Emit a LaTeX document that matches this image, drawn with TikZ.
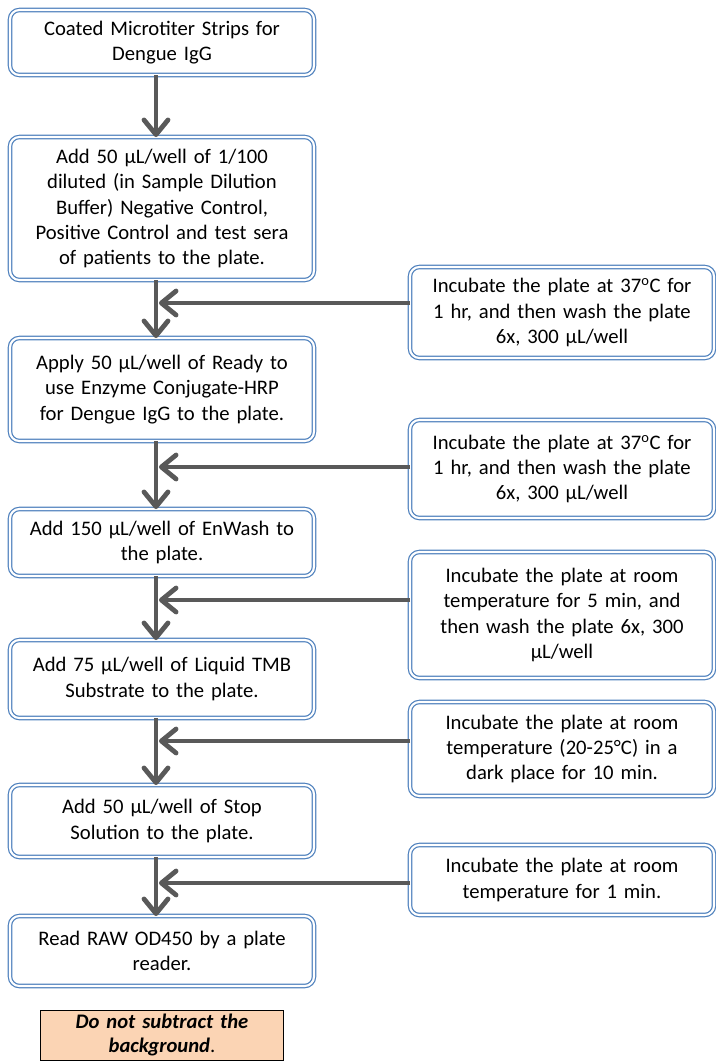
\documentclass[tikz,border=0pt]{standalone}
\usepackage{fontspec}
\setmainfont{Carlito}
\usetikzlibrary{positioning,arrows.meta}
\definecolor{boxblue}{HTML}{4F81BD}
\definecolor{arrowgray}{HTML}{595959}
\definecolor{notepeach}{HTML}{FBD4B4}

\begin{document}
\begin{tikzpicture}[x=0.75pt,y=-0.75pt,
	stepbox/.style={rectangle,rounded corners=7pt,draw=boxblue,line width=0.9pt,double=white,double distance=1.6pt,outer sep=0pt,text width=220pt,align=center,inner sep=4pt,font=\fontsize{15.5}{19}\selectfont},
	notebox/.style={rectangle,draw=black,line width=0.7pt,outer sep=0pt,fill=notepeach,text width=180pt,minimum height=37.5pt,align=center,inner sep=1pt,font=\fontsize{15.5}{18}\selectfont\bfseries\itshape},
	flowarrow/.style={draw=arrowgray,line width=3.6pt,-{Straight Barb[length=11pt,width=18pt,round]}}]
		\useasboundingbox (0,0) rectangle (715,1061);

		\node[stepbox,minimum height=48.75pt]							(step1)	at (162,42.5)	{Coated Microtiter Strips for\\Dengue IgG};
		\node[stepbox,minimum height=107.25pt,below=46.5pt of step1]	(step2)	{Add 50 μL/well of 1/100\\diluted (in Sample Dilution\\Buffer) Negative Control,\\Positive Control and test sera\\of patients to the plate.};
		\node[stepbox,minimum height=77.25pt,below=43.5pt of step2]		(step3)	{Apply 50 μL/well of Ready to\\use Enzyme Conjugate-HRP\\for Dengue IgG to the plate.};
		\node[stepbox,minimum height=50.25pt,below=51pt of step3]		(step4)	{Add 150 μL/well of EnWash to\\the plate.};
		\node[stepbox,minimum height=58.5pt,below=48pt of step4]		(step5)	{Add 75 μL/well of Liquid TMB\\Substrate to the plate.};
		\node[stepbox,minimum height=54pt,below=50.25pt of step5]		(step6)	{Add 50 μL/well of Stop\\Solution to the plate.};
		\node[stepbox,minimum height=52.5pt,below=44.25pt of step6]		(step7)	{Read RAW OD450 by a plate\\reader.};
		\node[notebox,below=18pt of step7]								(note)	{Do not subtract the\\background{\upshape\mdseries.}};

		\node[stepbox,minimum height=68.25pt]	(wait1)	at (562,312.5)	{Incubate the plate at 37\textsuperscript{o}C for\\1 hr, and then wash the plate\\6x, 300 μL/well};
		\node[stepbox,minimum height=73.5pt]	(wait2)	at (562,469)	{Incubate the plate at 37\textsuperscript{o}C for\\1 hr, and then wash the plate\\6x, 300 μL/well};
		\node[stepbox,minimum height=94.5pt]	(wait3)	at (562,615)	{Incubate the plate at room\\temperature for 5 min, and\\then wash the plate 6x, 300\\μL/well};
		\node[stepbox,minimum height=70.5pt]	(wait4)	at (562,749)	{Incubate the plate at room\\temperature (20-25°C) in a\\dark place for 10 min.};
		\node[stepbox,minimum height=52.5pt]	(wait5)	at (562,880)	{Incubate the plate at room\\temperature for 1 min.};

		\coordinate (j1) at (159,303);
		\coordinate (j2) at (159,467);
		\coordinate (j3) at (159,600);
		\coordinate (j4) at (159,741);
		\coordinate (j5) at (159,883);

		\draw[flowarrow] ([xshift=-4.5pt]step1.south) -- ([xshift=-4.5pt]step2.north);
		\draw[flowarrow] ([xshift=-4.5pt]step2.south) -- ([xshift=-4.5pt]step3.north);
		\draw[flowarrow] ([xshift=-4.5pt]step3.south) -- ([xshift=-4.5pt]step4.north);
		\draw[flowarrow] ([xshift=-4.5pt]step4.south) -- ([xshift=-4.5pt]step5.north);
		\draw[flowarrow] ([xshift=-4.5pt]step5.south) -- ([xshift=-4.5pt]step6.north);
		\draw[flowarrow] ([xshift=-4.5pt]step6.south) -- ([xshift=-4.5pt]step7.north);

		\draw[flowarrow] (wait1.west |- j1) -- (j1);
		\draw[flowarrow] (wait2.west |- j2) -- (j2);
		\draw[flowarrow] (wait3.west |- j3) -- (j3);
		\draw[flowarrow] (wait4.west |- j4) -- (j4);
		\draw[flowarrow] (wait5.west |- j5) -- (j5);
	\end{tikzpicture}
\end{document}
